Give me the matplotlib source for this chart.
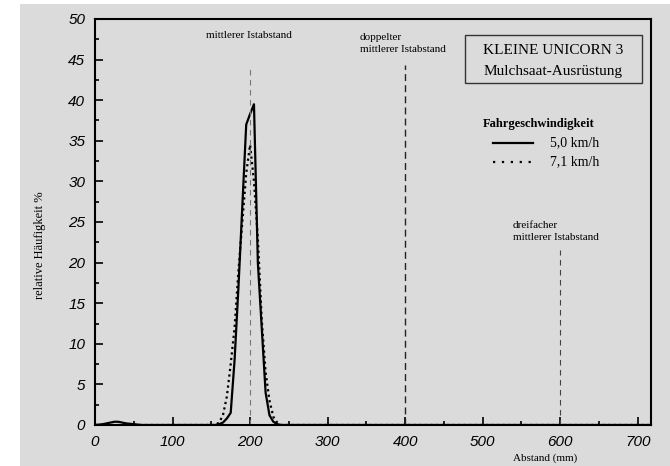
import matplotlib
matplotlib.use("Agg")
import matplotlib.pyplot as plt
from matplotlib.patches import Rectangle
from matplotlib.ticker import MultipleLocator

# Abstand der Klassenmitten (mm)
abstand = [0, 10, 20, 25, 30, 35, 40, 50, 60, 150, 155, 160, 165, 170, 175, 180, 185,
           190, 195, 200, 205, 210, 215, 220, 225, 230, 235, 240, 250, 717]

# relative Häufigkeit (%) bei 5,0 km/h
haeufigkeit_50 = [0, 0.1, 0.3, 0.4, 0.4, 0.3, 0.2, 0.1, 0, 0, 0, 0.1, 0.3, 0.8, 1.5,
                  8, 17, 27, 37, 38.3, 39.5, 20, 12, 4, 1.2, 0.4, 0.1, 0, 0, 0]

# relative Häufigkeit (%) bei 7,1 km/h
haeufigkeit_71 = [0, 0, 0, 0, 0, 0, 0, 0, 0, 0, 0, 0.3, 1.2, 3.5, 7.5,
                  12, 19, 25, 31, 34.5, 30, 23, 13, 6.5, 3, 1, 0.3, 0, 0, 0]

# Vielfache des mittleren Istabstands
istabstand = [200, 400, 600]
linien_oben = [44.3, 44.3, 21.5]

grau = "#dbdbdb"
serif = "Liberation Serif"
sans = "Liberation Sans"

fig = plt.figure(figsize=(6.7, 4.66), dpi=100)
fig.patch.set_facecolor("white")
fig.patches.append(Rectangle((20 / 670, 0), 1, 462 / 466, transform=fig.transFigure,
                             facecolor=grau, edgecolor="none", zorder=-10))

ax = fig.add_axes([95 / 670, 41 / 466, 556 / 670, 406 / 466])
ax.set_facecolor(grau)

ax.plot(abstand, haeufigkeit_50, color="black", linewidth=1.6, label="5,0 km/h")
ax.plot(abstand, haeufigkeit_71, color="black", linewidth=1.6, linestyle=(0, (1, 1.5)),
        label="7,1 km/h")

# Hilfslinien
ax.vlines(istabstand[0], 0, linien_oben[0], color="#777777", linewidth=0.8,
          linestyles=(0, (5, 4)))
ax.vlines(istabstand[1], 0, linien_oben[1], color="#222222", linewidth=1.0,
          linestyles=(0, (5, 3)))
ax.vlines(istabstand[2], 0, linien_oben[2], color="#444444", linewidth=0.8,
          linestyles=(0, (5, 4)))

ax.set_xlim(0, 717)
ax.set_ylim(0, 50)
ax.xaxis.set_major_locator(MultipleLocator(100))
ax.xaxis.set_minor_locator(MultipleLocator(50))
ax.yaxis.set_major_locator(MultipleLocator(5))
ax.yaxis.set_minor_locator(MultipleLocator(2.5))
ax.tick_params(which="both", direction="in", color="black", width=1.2)
ax.tick_params(which="major", length=6, pad=7)
ax.tick_params(which="minor", length=3)
for lab in ax.get_xticklabels() + ax.get_yticklabels():
    lab.set_family(sans)
    lab.set_style("italic")
    lab.set_fontsize(11)
for s in ax.spines.values():
    s.set_linewidth(1.5)

# Beschriftungen
fig.text(249 / 670, 1 - 35 / 466, "mittlerer Istabstand", ha="center", va="center",
         family=serif, fontsize=8)
fig.text(360 / 670, 1 - 43.5 / 466, "doppelter\nmittlerer Istabstand", ha="left",
         va="center", family=serif, fontsize=8, linespacing=1.4)
fig.text(513 / 670, 1 - 231.5 / 466, "dreifacher\nmittlerer Istabstand", ha="left",
         va="center", family=serif, fontsize=8, linespacing=1.4)

fig.patches.append(Rectangle((465 / 670, 1 - 83 / 466), 177 / 670, 48 / 466,
                             transform=fig.transFigure, facecolor="none",
                             edgecolor="#333333", linewidth=1.0))
fig.text(553 / 670, 1 - 51 / 466, "KLEINE UNICORN 3", ha="center", va="center",
         family=serif, fontsize=11)
fig.text(553 / 670, 1 - 71 / 466, "Mulchsaat-Ausrüstung", ha="center", va="center",
         family=serif, fontsize=11)

# Legende
fig.text(483 / 670, 1 - 124 / 466, "Fahrgeschwindigkeit", ha="left", va="center",
         family=serif, fontsize=9, weight="bold")
fig.lines.append(plt.Line2D([493 / 670, 533 / 670], [1 - 143 / 466] * 2,
                            transform=fig.transFigure, color="black", linewidth=1.6))
fig.lines.append(plt.Line2D([493 / 670, 533 / 670], [1 - 162 / 466] * 2,
                            transform=fig.transFigure, color="black", linewidth=1.6,
                            linestyle=(0, (1, 3))))
fig.text(550 / 670, 1 - 143 / 466, "5,0 km/h", ha="left", va="center", family=serif,
         fontsize=10)
fig.text(550 / 670, 1 - 162 / 466, "7,1 km/h", ha="left", va="center", family=serif,
         fontsize=10)

fig.text(40 / 670, 1 - 245 / 466, "relative Häufigkeit %", rotation=90, ha="center",
         va="center", family=serif, fontsize=9)
fig.text(545 / 670, 1 - 458 / 466, "Abstand (mm)", ha="center", va="center",
         family=serif, fontsize=8)

fig.savefig("out.png", dpi=100, facecolor=fig.get_facecolor())
